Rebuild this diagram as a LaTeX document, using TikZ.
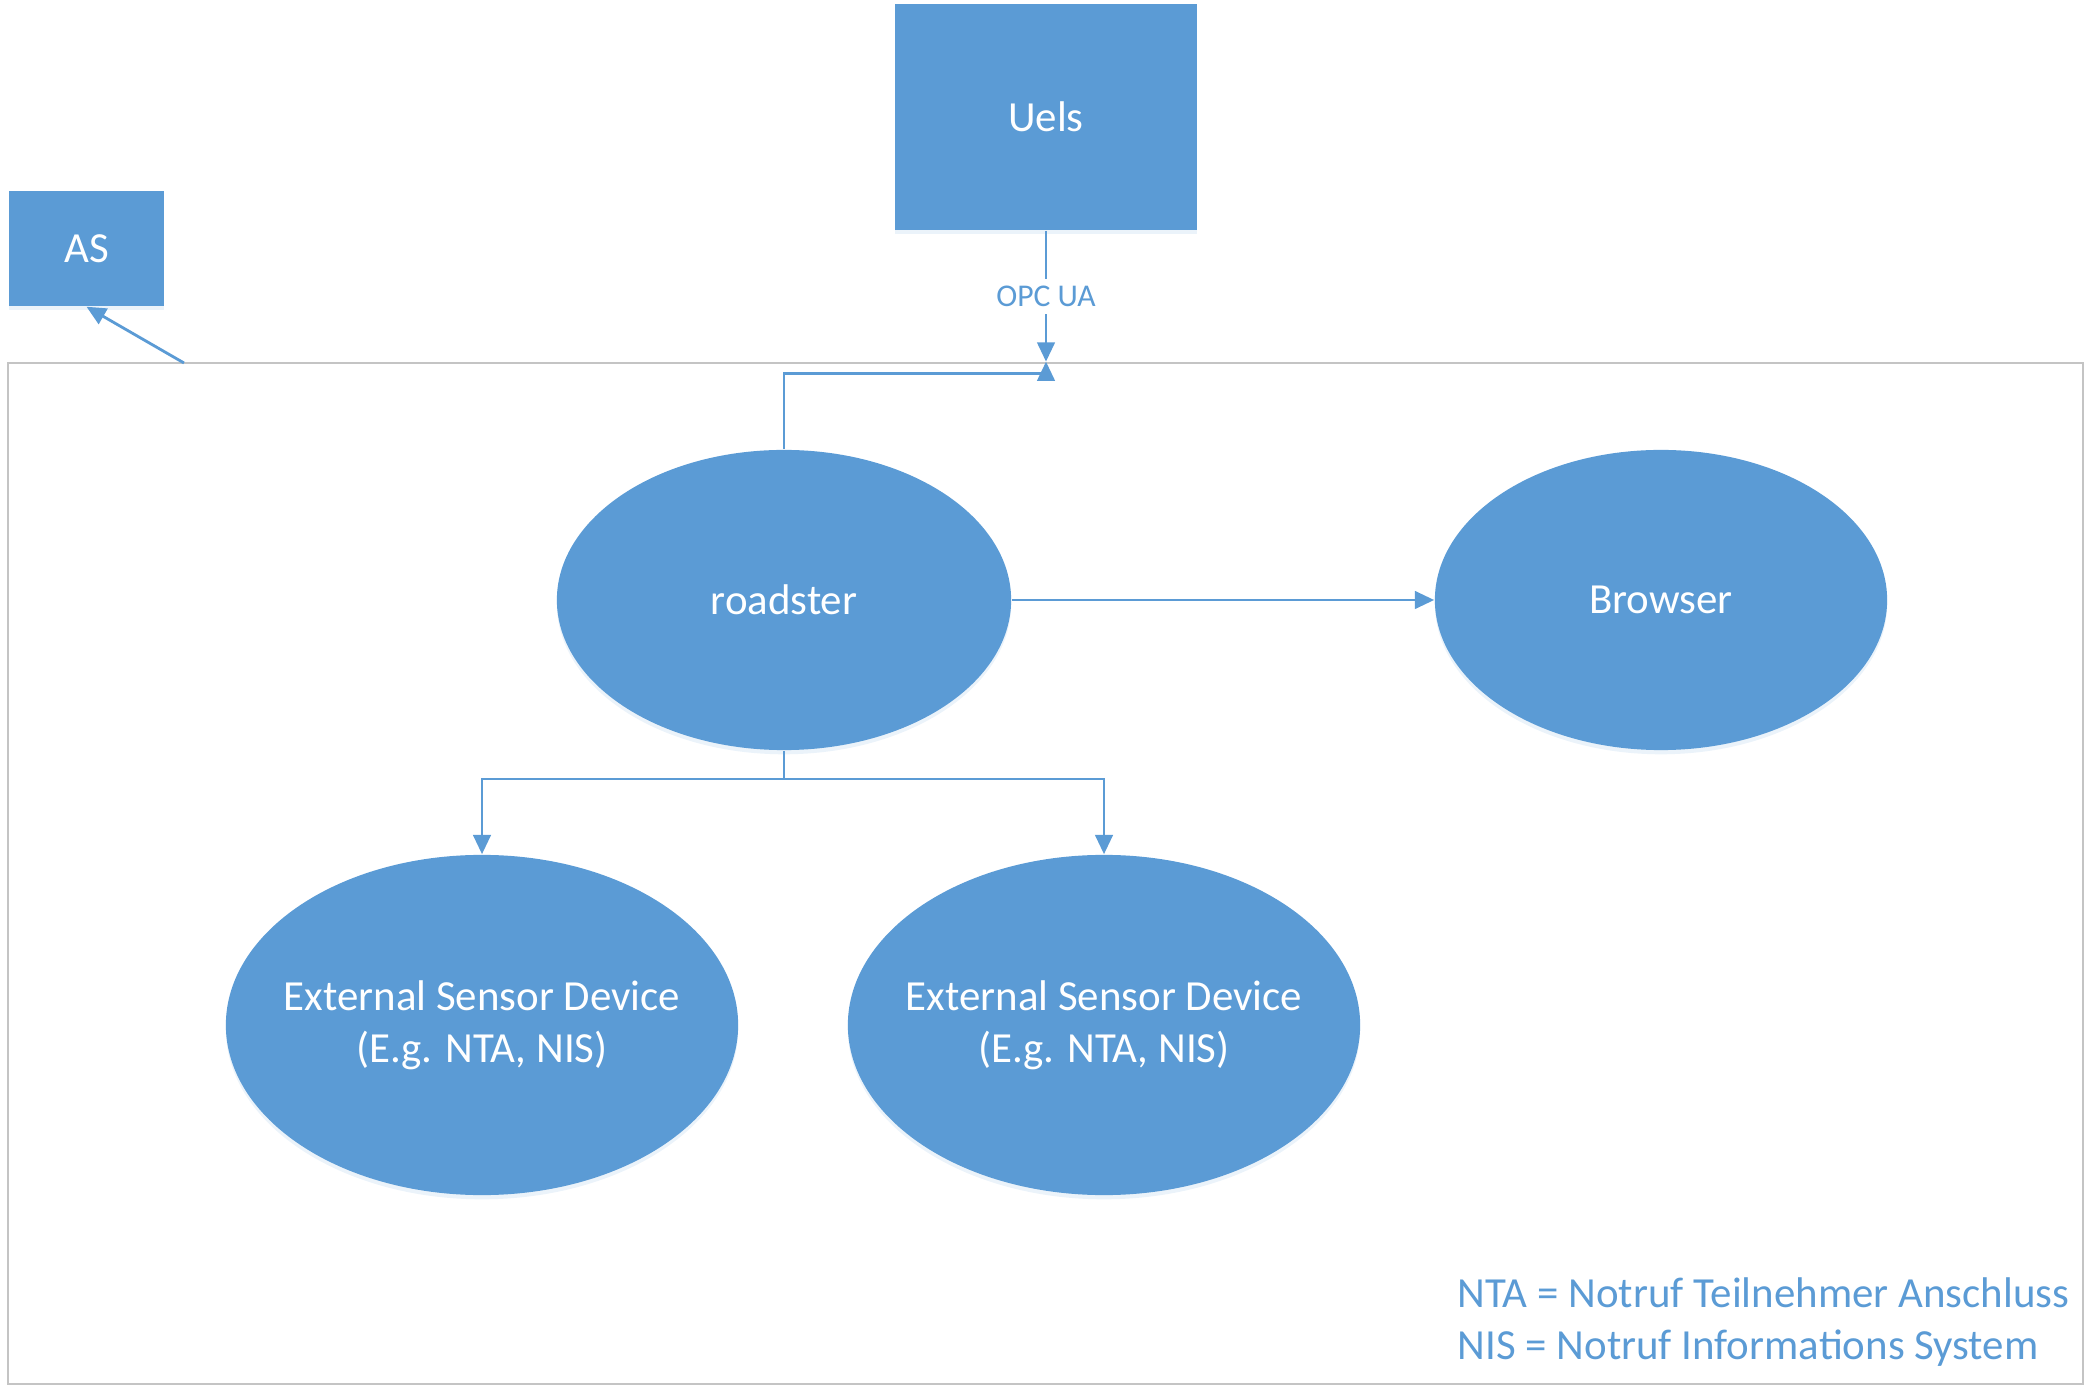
\documentclass[tikz,border=0pt]{standalone}
\usepackage{fontspec}
\setmainfont{Carlito}
\usetikzlibrary{arrows.meta, positioning, calc, shapes.geometric, shadows}
\definecolor{officeblue}{HTML}{5B9BD5}
\definecolor{framegrey}{HTML}{C4C4C4}

\begin{document}
\begin{tikzpicture}[
    x=0.01cm, y=-0.01cm,
    softshadow/.style={drop shadow={shadow xshift=0pt, shadow yshift=-1.2pt, opacity=0.12, fill=officeblue}},
    blk/.style={rectangle, fill=officeblue, text=white, inner sep=0pt, font=\fontsize{12.2}{15}\selectfont, softshadow},
    blob/.style={ellipse, fill=officeblue, text=white, inner sep=0pt, align=center, font=\fontsize{12.2}{14.8}\selectfont, softshadow},
    blobtext/.style={text=white, align=center, inner sep=0pt, font=\fontsize{12.2}{14.8}\selectfont},
    frame/.style={rectangle, draw=framegrey, line width=0.6pt, inner sep=0pt, minimum width=20.73cm, minimum height=10.21cm},
    link/.style={draw=officeblue, line width=0.8pt, -{Triangle[width=5pt, length=5.5pt]}},
    >=Stealth
]
\useasboundingbox (0,0) rectangle (2094,1398);
\node[frame] (sys) at (1045.5,873.5) {};
\node[blk, minimum width=3.02cm, minimum height=2.26cm] (uels) at (1046,117) {Uels};
\node[blk, minimum width=1.55cm, minimum height=1.15cm] (as) at (86.5,248.5) {AS};
\node[blob, minimum width=4.54cm, minimum height=3cm] (road) at (784,600) {roadster};
\node[blob, minimum width=4.52cm, minimum height=3cm] (browser) at (1661,600) {Browser};
\node[blob, minimum width=5.12cm, minimum height=3.4cm,
      label={[blobtext]center:{External Sensor Device\\(E.g. NTA, NIS)}}] (esdA) at (482,1025) {};
\node[blob, minimum width=5.12cm, minimum height=3.4cm,
      label={[blobtext]center:{External Sensor Device\\(E.g. NTA, NIS)}}] (esdB) at (1104,1025) {};
\node[anchor=west, align=left, inner sep=0pt, text=officeblue, font=\fontsize{12.2}{14.6}\selectfont] (legend) at (1457,1322)
    {NTA = Notruf Teilnehmer Anschluss\\NIS = Notruf Informations System};
% connection points on the frame and below roadster
\coordinate (opc) at (uels.south |- sys.north);
\coordinate (asfoot) at (184,363);
\coordinate (split) at (784,779);
\draw[link] (uels.south) -- node[fill=white, text=officeblue, inner sep=2pt, font=\fontsize{9}{11}\selectfont] {OPC UA} (opc);
\draw[link] (road.north) |- ($(opc)+(0,12)$) -- (opc);
\draw[link] (asfoot) -- (as.south);
\draw[link] (road.east) -- (browser.west);
\draw[link] (road.south) -- (split) -| (esdA.north);
\draw[link] (split) -| (esdB.north);
\end{tikzpicture}
\end{document}
